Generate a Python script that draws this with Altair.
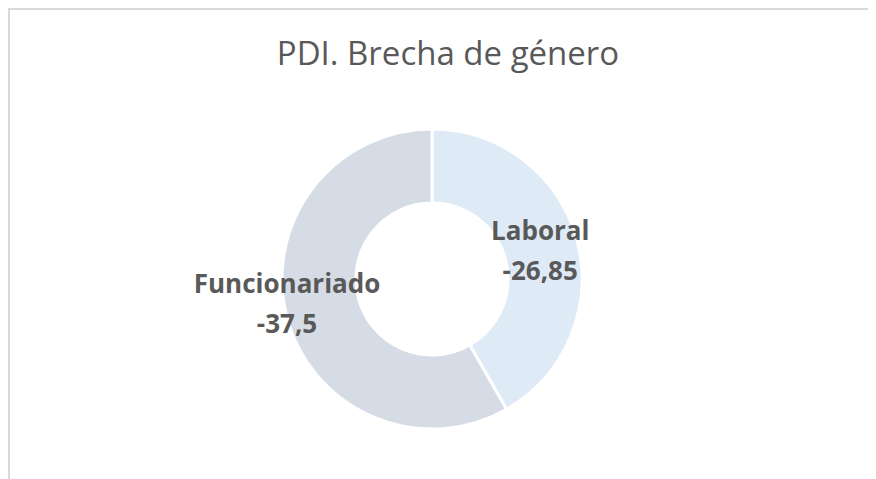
import altair as alt
import pandas as pd

# ---- data ----
categories = ["Laboral", "Funcionariado"]
values = [-26.85, -37.5]
value_labels = ["-26,85", "-37,5"]
slice_colors = ["#DEEBF7", "#D6DCE5"]
title_text = "PDI. Brecha de género"

df = pd.DataFrame({
    "categoria": categories,
    "valor": values,
    "etiqueta": value_labels,
    "orden": list(range(len(categories))),
})

# ---- layout ----
W, H = 860, 471
CX, CY = 424, 271
TXT = "#595959"

base = alt.Chart(df).transform_calculate(
    mag="abs(datum.valor)",
    lines="[datum.categoria, datum.etiqueta]",
)

arcs = base.mark_arc(outerRadius=150, innerRadius=76, stroke="white", strokeWidth=3).encode(
    theta=alt.Theta("mag:Q", stack=True),
    order=alt.Order("orden:Q", sort="ascending"),
    color=alt.Color("categoria:N", scale=alt.Scale(domain=categories, range=slice_colors), legend=None),
    x=alt.value(CX),
    y=alt.value(CY),
)


def label_layer(cat, r, dy):
    return (
        base.transform_stack(
            stack="mag", groupby=[], as_=["s0", "s1"], sort=[alt.SortField("orden", order="ascending")]
        )
        .transform_calculate(mid="(datum.s0 + datum.s1) / 2")
        .transform_filter(alt.datum.categoria == cat)
        .mark_text(
            radius=r, dy=dy, font="Open Sans", fontWeight="bold", fontSize=26,
            color=TXT, align="center", baseline="middle", lineHeight=40,
        )
        .encode(
            theta=alt.Theta("mid:Q", stack=None),
            text="lines:N",
            x=alt.value(CX),
            y=alt.value(CY),
        )
    )


lab_laboral = label_layer("Laboral", 112, -18)
lab_func = label_layer("Funcionariado", 150, -33)

one = alt.Data(values=[{}])
title = alt.Chart(one).mark_text(
    font="Open Sans", fontSize=33, color=TXT, align="center", baseline="alphabetic"
).encode(x=alt.value(440), y=alt.value(57), text=alt.value(title_text))

top_rule = alt.Chart(one).mark_rule(color="#d9d9d9", strokeWidth=2).encode(
    x=alt.value(0), x2=alt.value(W), y=alt.value(1)
)
left_rule = alt.Chart(one).mark_rule(color="#d9d9d9", strokeWidth=2).encode(
    x=alt.value(1), y=alt.value(0), y2=alt.value(H)
)

chart = (
    alt.layer(top_rule, left_rule, arcs, lab_laboral, lab_func, title)
    .properties(width=W, height=H, autosize=alt.AutoSizeParams(type="none"), padding=0)
    .configure_view(strokeWidth=0)
)

chart.save("out.html", embed_options={"renderer": "svg", "actions": False})
